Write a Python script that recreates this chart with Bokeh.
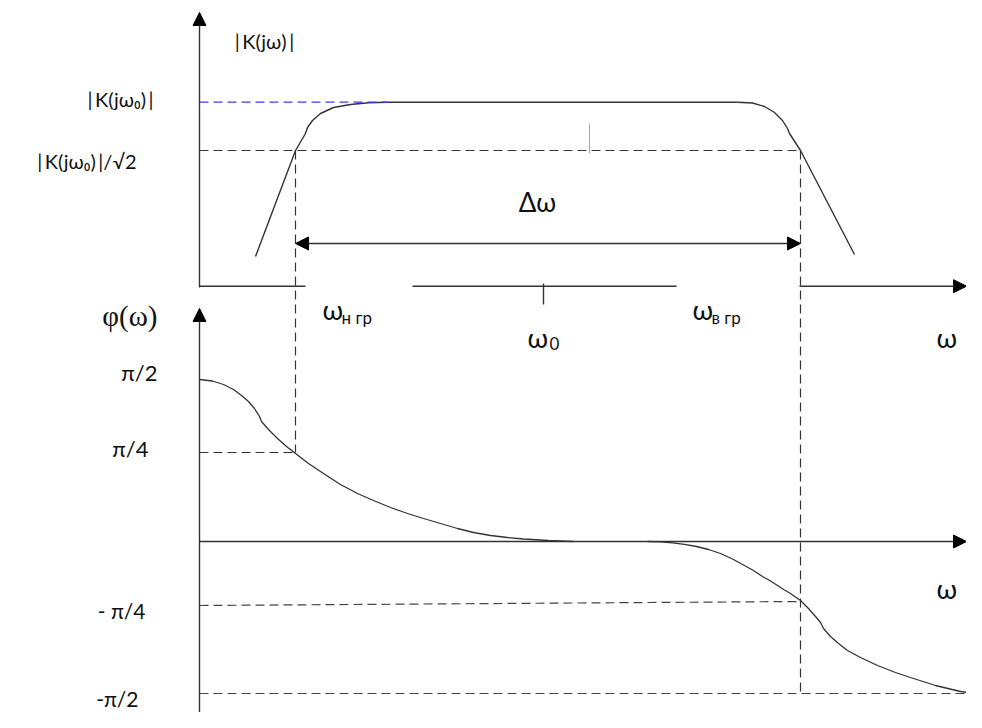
from bokeh.plotting import figure
from bokeh.models import Range1d, Arrow, NormalHead
from bokeh.core.properties import value
from bokeh.embed import file_html
from bokeh.resources import INLINE

# ---- diagram data (diagram units: x to the right, y downward) ----
# amplitude response |K(jw)|
amp_left_x = [255, 275, 295, 305, 307, 312, 320, 333, 350, 368, 387, 737]
amp_left_y = [256, 203, 150, 133, 127, 120, 113, 107, 104, 102.3, 101.7, 101.7]
amp_right_x = [737, 752, 764, 774, 782, 787, 789, 800, 854]
amp_right_y = [101.7, 102.5, 106, 112, 120, 128, 133, 150, 254]

# phase response phi(w)
ph_left_x = [199, 212, 223, 233, 241, 248, 254, 259, 261, 268, 277, 286, 295, 308, 323,
             340, 357, 373, 390, 407, 423, 440, 457, 473, 490, 507, 523, 548, 573]
ph_left_y = [379, 380.5, 384, 389, 395, 401, 408, 416, 421, 429, 438, 446, 453, 463, 473,
             484, 493, 500, 507, 513, 518, 523, 528, 532, 535, 537, 538.5, 540, 541]
ph_right_x = [647, 660, 672, 684, 696, 708, 720, 732, 743, 753, 762, 770, 777, 784, 790,
              795, 800, 808, 815, 820, 823, 830, 838, 847, 860, 877, 895, 910, 935, 960, 975]
ph_right_y = [541, 541.4, 542.3, 543.8, 546, 549, 553, 558.5, 564.5, 570, 576, 580.5, 585,
              589.5, 593, 596.5, 600, 608, 616, 622, 628, 636, 643, 650, 657, 665, 672, 677,
              685, 691, 693]

# reference levels / frequencies
x_axis0 = 199
w_low, w0, w_high = 295, 543, 800
k0_level, k_half_level, amp_axis = 101.7, 150, 285.7
ph_pi4, ph_zero, ph_mpi4_l, ph_mpi4_r, ph_mpi2 = 452, 541, 605, 601, 693
bw_arrow_y = 243
x_end = 966

INK = "#333333"
DASH = "9 5"
FONT = "Lato"

p = figure(width=966, height=712, x_range=Range1d(0, 966), y_range=Range1d(712, 0),
           output_backend="svg", toolbar_location=None, min_border=0)
p.axis.visible = False
p.grid.visible = False
p.outline_line_color = None
p.background_fill_color = "white"

# curves
p.line(amp_left_x, amp_left_y, line_color=INK, line_width=1.4)
p.line(amp_right_x, amp_right_y, line_color=INK, line_width=1.4)
p.line(ph_left_x, ph_left_y, line_color=INK, line_width=1.3)
p.line(ph_right_x, ph_right_y, line_color=INK, line_width=1.3)

# dashed guide lines
p.line([x_axis0, 387], [k0_level, k0_level], line_color="#3a3aff", line_dash=DASH, line_width=1.2)
p.line([x_axis0, w_high], [k_half_level, k_half_level], line_color=INK, line_dash=DASH, line_width=1.2)
p.line([w_low, w_low], [k_half_level, ph_pi4], line_color=INK, line_dash=DASH, line_width=1.2)
p.line([w_high, w_high], [k_half_level, 691], line_color=INK, line_dash=DASH, line_width=1.2)
p.line([x_axis0, w_low], [ph_pi4, ph_pi4], line_color=INK, line_dash=DASH, line_width=1.2)
p.line([x_axis0, w_high], [ph_mpi4_l, ph_mpi4_r], line_color="#444444", line_dash=DASH, line_width=1.2)
p.line([x_axis0, x_end], [ph_mpi2, ph_mpi2], line_color="#444444", line_dash=DASH, line_width=1.2)

# small grey mark
p.line([589, 589], [123, 153], line_color="#aaaaaa", line_width=1)

# amplitude axes
p.line([x_axis0, 305], [amp_axis, amp_axis], line_color=INK, line_width=1.4)
p.line([412, 676], [amp_axis, amp_axis], line_color=INK, line_width=1.4)
p.line([w0, w0], [283, 304], line_color=INK, line_width=1.4)
head = dict(size=13, fill_color="black", line_color="black")
p.add_layout(Arrow(end=NormalHead(**head), x_start=x_axis0, y_start=287, x_end=x_axis0, y_end=12,
                   line_color=INK, line_width=1.4))
p.add_layout(Arrow(end=NormalHead(**head), x_start=799, y_start=amp_axis, x_end=x_end, y_end=amp_axis,
                   line_color=INK, line_width=1.4))
# bandwidth arrow
p.add_layout(Arrow(start=NormalHead(**head), end=NormalHead(**head), x_start=w_low, y_start=bw_arrow_y,
                   x_end=w_high, y_end=bw_arrow_y, line_color=INK, line_width=1.4))

# phase axes
p.add_layout(Arrow(end=NormalHead(**head), x_start=x_axis0, y_start=712, x_end=x_axis0, y_end=308,
                   line_color=INK, line_width=1.4))
p.add_layout(Arrow(end=NormalHead(**head), x_start=x_axis0, y_start=ph_zero, x_end=x_end, y_end=ph_zero,
                   line_color=INK, line_width=1.4))

def label(x, y, t, size, align="left", font=FONT):
    p.text([x], [y], text=[t], text_font=value(font), text_font_size=f"{size}px",
           text_align=align, text_baseline="middle", text_color="#111111")

TS = "\u2009"
label(264, 40, f"|{TS}K(jω){TS}|", 20, "center")
label(153, 98, f"|{TS}K(jω₀){TS}|", 20, "right")
label(136, 160, f"|{TS}K(jω₀){TS}|/√2", 20, "right")
label(537, 201, "Δω", 26, "center")
label(157, 315, "φ(ω)", 29, "right", "Liberation Serif")
label(157, 372, "π/2", 22, "right")
label(148, 448, "π/4", 22, "right")
label(145, 610, "- π/4", 21, "right")
label(138, 698, "-π/2", 21, "right")

# frequency labels
label(322, 309, "ω", 27)
label(341, 317, "н гр", 17)
label(692, 309, "ω", 27)
label(711, 317, "в гр", 17)
label(527, 337, "ω", 27)
label(549, 343, "0", 17)
label(936, 337, "ω", 27)
label(936, 588, "ω", 27)

open("out.html", "w").write(file_html(p, INLINE))
